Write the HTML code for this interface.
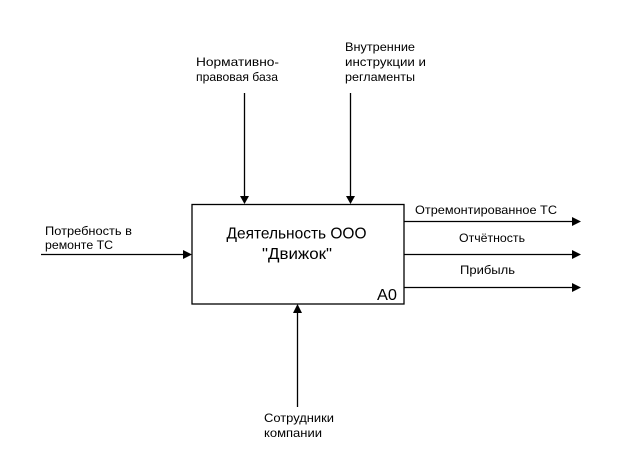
<!DOCTYPE html>
<html><head><meta charset="utf-8"><style>
html,body{margin:0;padding:0;background:#fff;}
svg{display:block;}
text{font-family:"Liberation Sans","Noto Sans CJK SC",sans-serif;fill:#000;}
</style></head><body>
<svg width="617" height="464" viewBox="0 0 617 464" xmlns="http://www.w3.org/2000/svg">
<rect x="0" y="0" width="617" height="464" fill="#fff"/>
<!-- main box -->
<rect x="192" y="204.5" width="212" height="99.5" fill="#fff" stroke="#000" stroke-width="1.3"/>
<g stroke="#000" stroke-width="1.3" fill="none">
<line x1="244.5" y1="93" x2="244.5" y2="197"/>
<line x1="350.5" y1="93" x2="350.5" y2="197"/>
<line x1="41" y1="254.5" x2="184" y2="254.5"/>
<line x1="404" y1="221.5" x2="573" y2="221.5"/>
<line x1="404" y1="254.5" x2="573" y2="254.5"/>
<line x1="404" y1="287.5" x2="573" y2="287.5"/>
<line x1="297.5" y1="407" x2="297.5" y2="312"/>
</g>
<g fill="#000">
<polygon points="240,196 249,196 244.5,204"/>
<polygon points="346,196 355,196 350.5,204"/>
<polygon points="183,250 183,259 192,254.5"/>
<polygon points="572,217 572,226 581,221.5"/>
<polygon points="572,250 572,259 581,254.5"/>
<polygon points="572,283 572,292 581,287.5"/>
<polygon points="293,313 302,313 297.5,304"/>
</g>
<g font-size="12">
<text x="196" y="66" textLength="83" lengthAdjust="spacingAndGlyphs">Нормативно-</text>
<text x="196" y="81" textLength="82" lengthAdjust="spacingAndGlyphs">правовая база</text>
<text x="345" y="51" textLength="70" lengthAdjust="spacingAndGlyphs">Внутренние</text>
<text x="345" y="66" textLength="81" lengthAdjust="spacingAndGlyphs">инструкции и</text>
<text x="345" y="81" textLength="70" lengthAdjust="spacingAndGlyphs">регламенты</text>
<text x="45" y="235" textLength="87" lengthAdjust="spacingAndGlyphs">Потребность в</text>
<text x="45" y="249" textLength="68" lengthAdjust="spacingAndGlyphs">ремонте ТС</text>
<text x="415" y="214" textLength="142" lengthAdjust="spacingAndGlyphs">Отремонтированное ТС</text>
<text x="459" y="242" textLength="66" lengthAdjust="spacingAndGlyphs">Отчётность</text>
<text x="460" y="274" textLength="55" lengthAdjust="spacingAndGlyphs">Прибыль</text>
<text x="264" y="422" textLength="70" lengthAdjust="spacingAndGlyphs">Сотрудники</text>
<text x="264" y="437" textLength="58" lengthAdjust="spacingAndGlyphs">компании</text>
</g>
<g font-size="16">
<text x="226.5" y="238.5" textLength="140" lengthAdjust="spacingAndGlyphs">Деятельность ООО</text>
<text x="262" y="259" textLength="70" lengthAdjust="spacingAndGlyphs">"Движок"</text>
<text x="377" y="300" textLength="20" lengthAdjust="spacingAndGlyphs">А0</text>
</g>
</svg>
</body></html>
